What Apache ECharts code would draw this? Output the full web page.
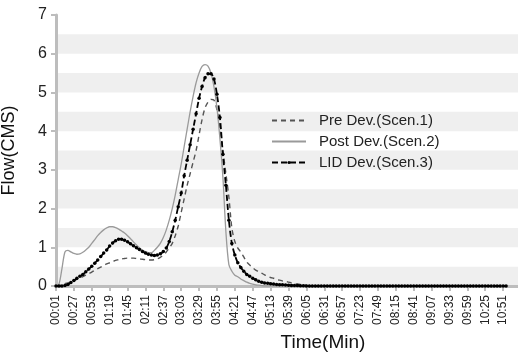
<!DOCTYPE html>
<html>
<head>
<meta charset="utf-8">
<script src="https://cdn.jsdelivr.net/npm/echarts@6/dist/echarts.min.js"></script>
<style>
html,body{margin:0;padding:0;background:#fff;}
#chart{width:518px;height:357px;}
</style>
</head>
<body>
<div id="chart"></div>
<script>
// Tick labels on the time axis (every 26 min)
const tickLabels = ['00:01','00:27','00:53','01:19','01:45','02:11','02:37','03:03','03:29','03:55',
  '04:21','04:47','05:13','05:39','06:05','06:31','06:57','07:23','07:49','08:15',
  '08:41','09:07','09:33','09:59','10:25','10:51'];
const STEPS_PER_TICK = 6;      // data points between two labelled ticks
const TOTAL_CATEGORIES = 156;  // axis runs a little past the last label

const seriesNames = ['Pre Dev.(Scen.1)', 'Post Dev.(Scen.2)', 'LID Dev.(Scen.3)'];

const preDev = [
  0,0.01,0.03,0.06,0.08,0.11,0.14,0.17,0.2,0.24,
  0.28,0.32,0.36,0.41,0.45,0.49,0.53,0.57,0.6,0.63,
  0.66,0.68,0.7,0.71,0.72,0.72,0.72,0.71,0.7,0.69,
  0.68,0.67,0.67,0.68,0.7,0.74,0.8,0.88,0.98,1.1,
  1.3,1.55,1.9,2.25,2.6,2.9,3.2,3.5,3.9,4.3,
  4.6,4.75,4.82,4.8,4.55,4.1,3.5,2.9,2.3,1.5,
  1.15,0.98,0.88,0.75,0.62,0.54,0.47,0.41,0.37,0.33,
  0.29,0.25,0.22,0.2,0.17,0.15,0.13,0.12,0.1,0.08,
  0.06,0.05,0.04,0.03,0.02,0.01,0.01,0,0,0,
  0,0,0,0,0,0,0,0,0,0,
  0,0,0,0,0,0,0,0,0,0,
  0,0,0,0,0,0,0,0,0,0,
  0,0,0,0,0,0,0,0,0,0,
  0,0,0,0,0,0,0,0,0,0,
  0,0,0,0,0,0,0,0,0,0,
  0,0
];

const postDev = [
  0,0.05,0.45,0.88,0.92,0.88,0.84,0.82,0.83,0.87,
  0.93,1.0,1.1,1.2,1.3,1.38,1.45,1.5,1.53,1.53,
  1.51,1.47,1.42,1.37,1.3,1.22,1.14,1.06,0.99,0.93,
  0.89,0.86,0.86,0.92,1.0,1.1,1.25,1.45,1.7,2.0,
  2.35,2.75,3.15,3.6,4.05,4.5,4.9,5.25,5.5,5.67,
  5.72,5.68,5.5,5.15,4.6,3.8,2.8,1.4,0.55,0.38,
  0.28,0.24,0.18,0.14,0.1,0.07,0.05,0.03,0.02,0.01,
  0,0,0,0,0,0,0,0,0,0,
  0,0,0,0,0,0,0,0,0,0,
  0,0,0,0,0,0,0,0,0,0,
  0,0,0,0,0,0,0,0,0,0,
  0,0,0,0,0,0,0,0,0,0,
  0,0,0,0,0,0,0,0,0,0,
  0,0,0,0,0,0,0,0,0,0,
  0,0,0,0,0,0,0,0,0,0,
  0,0
];

const lidDev = [
  0,0,0,0.01,0.04,0.09,0.14,0.2,0.25,0.3,
  0.37,0.44,0.51,0.59,0.67,0.76,0.85,0.93,1.03,1.11,
  1.17,1.21,1.21,1.18,1.14,1.09,1.04,0.99,0.94,0.89,
  0.85,0.82,0.8,0.79,0.8,0.83,0.89,0.98,1.15,1.4,
  1.7,2.05,2.4,2.85,3.25,3.65,4.05,4.45,4.85,5.15,
  5.38,5.48,5.48,5.35,4.95,4.35,3.4,2.6,1.7,1.1,
  0.8,0.6,0.48,0.38,0.3,0.25,0.2,0.16,0.12,0.1,
  0.08,0.07,0.06,0.05,0.04,0.035,0.03,0.025,0.02,0.015,
  0.01,0.01,0.005,0.005,0,0,0,0,0,0,
  0,0,0,0,0,0,0,0,0,0,
  0,0,0,0,0,0,0,0,0,0,
  0,0,0,0,0,0,0,0,0,0,
  0,0,0,0,0,0,0,0,0,0,
  0,0,0,0,0,0,0,0,0,0,
  0,0,0,0,0,0,0,0,0,0,
  0,0
];

// Build category list: labelled ticks plus intermediate time steps
function toMin(s){ const p = s.split(':'); return (+p[0])*60 + (+p[1]); }
function fmt(m){
  const sec = Math.round(m*60);
  const h = Math.floor(sec/3600), mi = Math.floor((sec%3600)/60), se = sec%60;
  return String(h).padStart(2,'0')+':'+String(mi).padStart(2,'0')+':'+String(se).padStart(2,'0');
}
const tickStep = toMin(tickLabels[1]) - toMin(tickLabels[0]);
const categories = [];
for (let i = 0; i < TOTAL_CATEGORIES; i++) {
  const k = Math.floor(i / STEPS_PER_TICK), j = i % STEPS_PER_TICK;
  if (j === 0 && k < tickLabels.length) categories.push(tickLabels[k]);
  else categories.push(fmt(toMin(tickLabels[0]) + i * tickStep / STEPS_PER_TICK));
}

const FONT = "'Liberation Sans', Arial, Helvetica, sans-serif";
const AXIS_GRAY = '#bdbdbd';

const chart = echarts.init(document.getElementById('chart'), null, {renderer:'canvas'});
chart.setOption({
  animation: false,
  backgroundColor: '#ffffff',
  textStyle: {fontFamily: FONT},
  grid: {left: 56, right: 0, top: 15, bottom: 71, containLabel: false, outerBoundsMode: 'none'},
  legend: {
    orient: 'vertical',
    left: 266, top: 107,
    itemWidth: 34, itemHeight: 4, itemGap: 4,
    textStyle: {fontFamily: FONT, fontSize: 15, color: '#222', padding: [0,0,0,8], lineHeight: 17},
    data: [
      {name: seriesNames[0], itemStyle: {opacity: 0}},
      {name: seriesNames[1], itemStyle: {opacity: 0}},
      {name: seriesNames[2]}
    ]
  },
  graphic: [{
    type: 'text', x: 323, y: 343,
    style: {text: 'Time(Min)', font: '19px ' + FONT, fill: '#111', textAlign: 'center', textVerticalAlign: 'middle'}
  }],
  xAxis: {
    type: 'category',
    data: categories,
    boundaryGap: false,
    axisLine: {show: true, lineStyle: {color: AXIS_GRAY, width: 3}},
    axisTick: {show: true, interval: STEPS_PER_TICK - 1, length: 5, lineStyle: {color: AXIS_GRAY, width: 2}},
    axisLabel: {interval: STEPS_PER_TICK - 1, rotate: 90, fontSize: 12, color: '#222', margin: 9, fontFamily: FONT},
    splitLine: {show: false}
  },
  yAxis: [{
    type: 'value', min: 0, max: 7, interval: 0.5,
    axisLine: {show: false}, axisTick: {show: false}, axisLabel: {show: false},
    splitLine: {show: false},
    splitArea: {show: true, areaStyle: {color: ['#efefef', 'rgba(255,255,255,0)']}}
  }, {
    type: 'value', min: 0, max: 7, interval: 1, position: 'left',
    name: 'Flow(CMS)', nameLocation: 'middle', nameGap: 38,
    nameTextStyle: {fontSize: 18, color: '#111', fontFamily: FONT},
    axisLine: {show: true, lineStyle: {color: AXIS_GRAY, width: 3}},
    axisTick: {show: true, length: 5, lineStyle: {color: AXIS_GRAY, width: 2}},
    axisLabel: {fontSize: 16, color: '#222', margin: 9, fontFamily: FONT},
    splitLine: {show: false}, splitArea: {show: false}
  }],
  series: [{
    name: seriesNames[0], type: 'line', yAxisIndex: 1, data: preDev,
    symbol: 'none', smooth: 0.3,
    lineStyle: {color: '#555555', width: 1.4, type: [5, 4]},
    itemStyle: {color: '#555555'}, z: 2
  }, {
    name: seriesNames[1], type: 'line', yAxisIndex: 1, data: postDev,
    symbol: 'none', smooth: 0.3,
    lineStyle: {color: '#9a9a9a', width: 1.3, type: 'solid'},
    itemStyle: {color: '#9a9a9a'}, z: 3
  }, {
    name: seriesNames[2], type: 'line', yAxisIndex: 1, data: lidDev,
    symbol: 'circle', symbolSize: 3.5, showSymbol: true, showAllSymbol: true, smooth: 0.3,
    lineStyle: {color: '#000000', width: 1.8, type: [6, 3]},
    itemStyle: {color: '#000000'}, z: 4
  }]
});
</script>
</body>
</html>
